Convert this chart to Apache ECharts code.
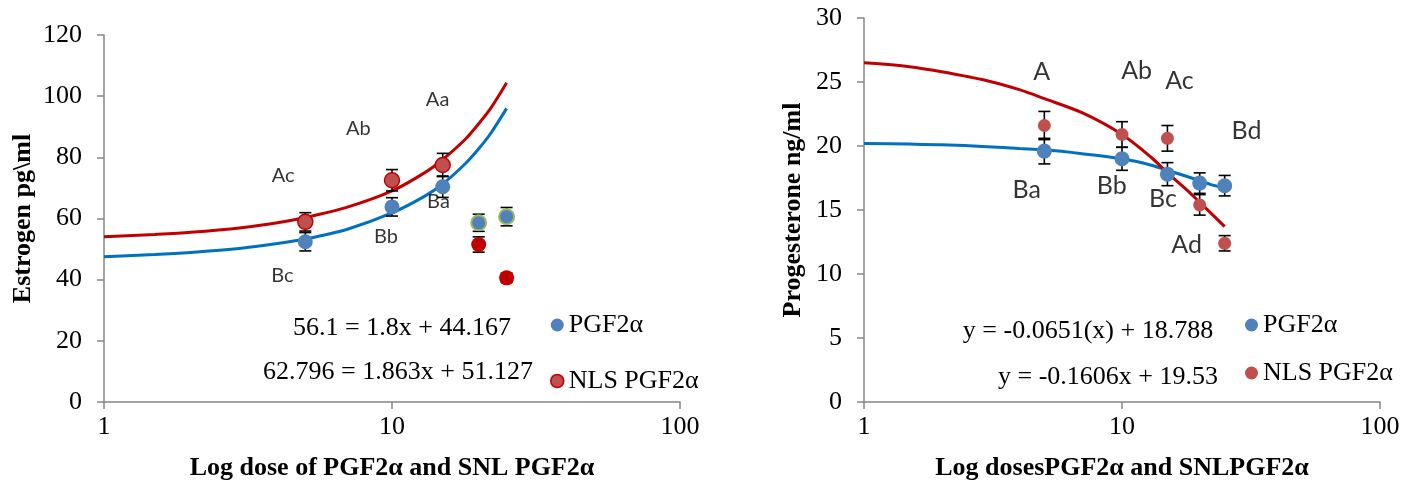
<!DOCTYPE html>
<html><head><meta charset="utf-8">
<script src="https://cdn.jsdelivr.net/npm/echarts@6/dist/echarts.min.js"></script>
<style>html,body{margin:0;padding:0;background:#fff}#c{width:1417px;height:489px}</style>
</head><body><div id="c"></div>
<script>
// ---------- Left chart: Estrogen ----------
const estDoses = [5, 10, 15];
const estPGF = [52.4, 63.8, 70.4];
const estPGFerr = [3, 3, 3.5];
const estNLS = [58.9, 72.5, 77.5];
const estNLSerr = [3, 3.5, 3.8];
const estExtraDoses = [20, 25];
const estPGFextra = [58.6, 60.6];
const estPGFextraErr = [2.8, 3];
const estNLSextra = [51.5, 40.6];
const estNLSextraErr = [2.5, 1.5];
const trendX = [1, 1.5, 2, 3, 4, 5, 7, 10, 13, 15, 18, 20, 22, 25];
const estTrendPGF = [47.5, 48.2, 48.9, 50.3, 51.8, 53.3, 56.5, 61.8, 67.3, 71.3, 78, 82.8, 87.8, 96];
const estTrendNLS = [54, 54.8, 55.5, 57, 58.6, 60.3, 63.7, 69, 75, 79.3, 86, 91, 96, 104.4];
const estLetterText = ['Ac', 'Ab', 'Aa', 'Bc', 'Bb', 'Ba'];
const estLetterX = [4.19, 7.64, 14.4, 4.16, 9.53, 14.5];
const estLetterY = [74.2, 89.5, 98.8, 41.5, 54.1, 65.5];
const estEquations = ['56.1 = 1.8x + 44.167', '62.796 = 1.863x + 51.127'];

// ---------- Right chart: Progesterone ----------
const progDoses = [5, 10, 15, 20, 25];
const progPGF = [19.6, 19.0, 17.8, 17.1, 16.9];
const progPGFerr = [1.0, 0.9, 0.9, 0.8, 0.8];
const progNLS = [21.6, 20.9, 20.6, 15.4, 12.4];
const progNLSerr = [1.1, 1.0, 1.0, 0.8, 0.6];
const progTrendPGF = [20.2, 20.15, 20.1, 19.95, 19.8, 19.7, 19.4, 19.0, 18.5, 18.1, 17.6, 17.3, 17.0, 16.7];
const progTrendNLS = [26.5, 26.2, 25.8, 25.1, 24.4, 23.7, 22.6, 20.9, 19.1, 17.9, 16.5, 15.6, 14.8, 13.7];
const progLetterText = ['A', 'Ab', 'Ac', 'Bd', 'Ba', 'Bb', 'Bc', 'Ad'];
const progLetterX = [4.88, 11.4, 16.7, 30.4, 4.27, 9.12, 14.4, 17.8];
const progLetterY = [25.8, 25.9, 25.1, 21.2, 16.6, 16.9, 15.9, 12.3];
const progEquations = ['y = -0.0651(x) + 18.788', 'y = -0.1606x + 19.53'];

const seriesNames = ['PGF2α', 'NLS PGF2α'];
const xTitles = ['Log dose of PGF2α and SNL PGF2α', 'Log dosesPGF2α and SNLPGF2α'];
const yTitles = ['Estrogen pg\\ml', 'Progesterone ng/ml'];

// ---------- helpers ----------
const zip = (xs, ys) => xs.map((x, i) => [x, ys[i]]);
const errData = (xs, ys, es) => xs.map((x, i) => [x, ys[i] - es[i], ys[i] + es[i]]);
const letters = (t, xs, ys) => t.map((n, i) => ({ name: n, value: [xs[i], ys[i]] }));
const SERIF = '"Liberation Serif", "Times New Roman", serif';
const BLUE = '#4F81BD', RED = '#C0504D', DRED = '#C00000', LBLUE = '#0070C0', GREEN = '#9BBB59';

function errItem(params, api) {
  const x = api.value(0), lo = api.value(1), hi = api.value(2);
  const p1 = api.coord([x, hi]), p2 = api.coord([x, lo]);
  const w = 6;
  const s = { stroke: '#000', lineWidth: 1.6 };
  return { type: 'group', children: [
    { type: 'line', shape: { x1: p1[0], y1: p1[1], x2: p2[0], y2: p2[1] }, style: s },
    { type: 'line', shape: { x1: p1[0] - w, y1: p1[1], x2: p1[0] + w, y2: p1[1] }, style: s },
    { type: 'line', shape: { x1: p2[0] - w, y1: p2[1], x2: p2[0] + w, y2: p2[1] }, style: s }
  ] };
}
function errSeries(data, gi) {
  return { type: 'custom', xAxisIndex: gi, yAxisIndex: gi, renderItem: errItem, data: data,
    encode: { x: 0, y: [1, 2] }, z: 3, silent: true };
}
function trend(data, color, gi) {
  return { type: 'line', xAxisIndex: gi, yAxisIndex: gi, data: data, smooth: 0.3,
    showSymbol: false, symbol: 'none', lineStyle: { color: color, width: 3 }, z: 2, silent: true };
}
function letterSeries(data, gi, size) {
  return { type: 'scatter', xAxisIndex: gi, yAxisIndex: gi, data: data, symbolSize: 1,
    itemStyle: { color: 'rgba(0,0,0,0)' }, silent: true, z: 6,
    label: { show: true, position: 'inside', formatter: '{b}', color: '#000',
      fontFamily: 'Lato, "Noto Sans", sans-serif', fontSize: size } };
}
function xAxis(gi, name) {
  return { type: 'log', logBase: 10, min: 1, max: 100, gridIndex: gi,
    name: name, nameLocation: 'middle', nameGap: 53,
    nameTextStyle: { fontFamily: SERIF, fontWeight: 'bold', fontSize: 26, color: '#000' },
    axisLine: { lineStyle: { color: '#868686', width: 1.5 } },
    axisTick: { show: true, length: 7, lineStyle: { color: '#868686', width: 1.5 } },
    minorTick: { show: false }, splitLine: { show: false },
    axisLabel: { fontFamily: SERIF, fontSize: 26, color: '#000', margin: 12 } };
}
function yAxis(gi, max, interval, name, gap) {
  return { type: 'value', min: 0, max: max, interval: interval, gridIndex: gi,
    name: name, nameLocation: 'middle', nameGap: gap, nameRotate: 90,
    nameTextStyle: { fontFamily: SERIF, fontWeight: 'bold', fontSize: 26, color: '#000' },
    axisLine: { show: true, lineStyle: { color: '#868686', width: 1.5 } },
    axisTick: { show: true, length: 7, lineStyle: { color: '#868686', width: 1.5 } },
    splitLine: { show: false },
    axisLabel: { fontFamily: SERIF, fontSize: 26, color: '#000', margin: 22 } };
}
function legend(left, top, gap, nlsStyle) {
  return { left: left, top: top, padding: 0, orient: 'vertical', itemGap: gap, itemWidth: 13, itemHeight: 13,
    icon: 'circle', selectedMode: false,
    textStyle: { fontFamily: SERIF, fontSize: 26, color: '#000', lineHeight: 26 },
    data: [{ name: seriesNames[0], itemStyle: { color: BLUE, borderWidth: 0 } },
           { name: seriesNames[1], itemStyle: nlsStyle }] };
}
function eqText(t, x, y) {
  return { type: 'text', x: x, y: y, silent: true,
    style: { text: t, font: '26px ' + SERIF, fill: '#000', align: 'center', verticalAlign: 'middle' } };
}

const chart = echarts.init(document.getElementById('c'), null, { renderer: 'canvas' });
chart.setOption({
  backgroundColor: '#fff',
  animation: false,
  grid: [
    { left: 104, right: 737, top: 35, bottom: 87 },
    { left: 864, right: 37, top: 18, bottom: 87 }
  ],
  xAxis: [xAxis(0, xTitles[0]), xAxis(1, xTitles[1])],
  yAxis: [yAxis(0, 120, 20, yTitles[0], 68), yAxis(1, 30, 5, yTitles[1], 58)],
  legend: [
    legend(550, 312, 30, { color: RED, borderColor: DRED, borderWidth: 1.5 }),
    legend(1245, 312, 22, { color: RED, borderWidth: 0 })
  ],
  graphic: [
    eqText(estEquations[0], 402, 328),
    eqText(estEquations[1], 398, 372),
    eqText(progEquations[0], 1088, 331),
    eqText(progEquations[1], 1108, 377)
  ],
  series: [
    // left
    trend(zip(trendX, estTrendPGF), LBLUE, 0),
    trend(zip(trendX, estTrendNLS), DRED, 0),
    errSeries(errData(estDoses, estPGF, estPGFerr), 0),
    errSeries(errData(estDoses, estNLS, estNLSerr), 0),
    errSeries(errData(estExtraDoses, estPGFextra, estPGFextraErr), 0),
    errSeries(errData(estExtraDoses, estNLSextra, estNLSextraErr), 0),
    { name: seriesNames[0], type: 'scatter', xAxisIndex: 0, yAxisIndex: 0, data: zip(estDoses, estPGF),
      symbolSize: 15, itemStyle: { color: BLUE, opacity: 1 }, z: 4 },
    { name: seriesNames[1], type: 'scatter', xAxisIndex: 0, yAxisIndex: 0, data: zip(estDoses, estNLS),
      symbolSize: 15, itemStyle: { color: RED, borderColor: DRED, borderWidth: 1.5, opacity: 1 }, z: 4 },
    { name: 'PGF2α (20–25)', type: 'scatter', xAxisIndex: 0, yAxisIndex: 0, data: zip(estExtraDoses, estPGFextra),
      symbolSize: 15, itemStyle: { color: BLUE, borderColor: GREEN, borderWidth: 2, opacity: 1 }, z: 4 },
    { name: 'NLS PGF2α (20–25)', type: 'scatter', xAxisIndex: 0, yAxisIndex: 0, data: zip(estExtraDoses, estNLSextra),
      symbolSize: 15, itemStyle: { color: DRED, opacity: 1 }, z: 4 },
    letterSeries(letters(estLetterText, estLetterX, estLetterY), 0, 20),
    // right
    trend(zip(trendX, progTrendPGF), LBLUE, 1),
    trend(zip(trendX, progTrendNLS), DRED, 1),
    errSeries(errData(progDoses, progPGF, progPGFerr), 1),
    errSeries(errData(progDoses, progNLS, progNLSerr), 1),
    { name: seriesNames[0], type: 'scatter', xAxisIndex: 1, yAxisIndex: 1, data: zip(progDoses, progPGF),
      symbolSize: 15, itemStyle: { color: BLUE, opacity: 1 }, z: 4 },
    { name: seriesNames[1], type: 'scatter', xAxisIndex: 1, yAxisIndex: 1, data: zip(progDoses, progNLS),
      symbolSize: 13, itemStyle: { color: RED, opacity: 1 }, z: 4 },
    letterSeries(letters(progLetterText, progLetterX, progLetterY), 1, 25)
  ]
});
</script>
</body></html>
